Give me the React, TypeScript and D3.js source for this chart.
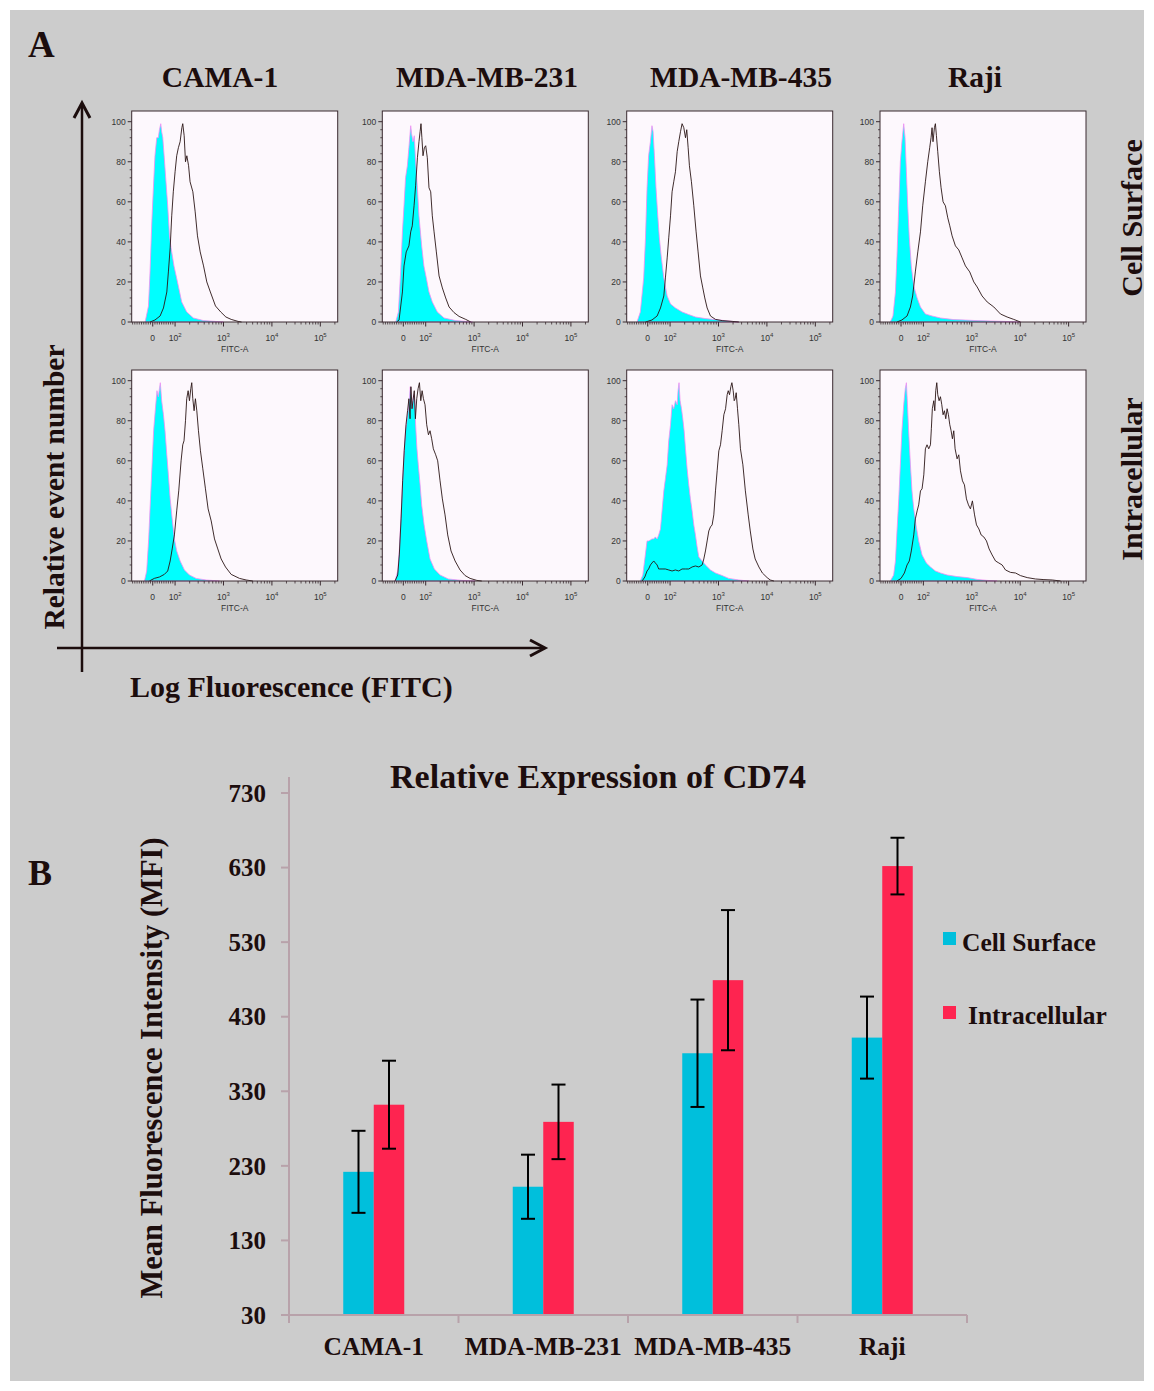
import React from "react";
import * as d3 from "d3";

const cellLines = ["CAMA-1", "MDA-MB-231", "MDA-MB-435", "Raji"];
const stainings = ["Cell Surface", "Intracellular"];

// flow histograms: [FITC-A, % of max]. iso = filled control, ab = anti-CD74 trace
const camaSurfIso = [[-34,0],[-19,8],[-12,25],[-4,50],[3,67],[10,83],[18,92],[25,92],[30,96],[36,99],[40,95],[45,92],[51,83],[58,72],[67,58],[75,43],[82,37],[95,28],[112,20],[137,10],[174,5],[239,2],[386,0.7],[1000,0]];
const camaSurfAb = [[-12,0],[10,1],[33,3],[48,7],[63,15],[70,25],[78,37],[85,53],[92,65],[100,75],[108,83],[117,87],[127,90],[138,97],[144,99],[154,93],[164,80],[175,83],[190,78],[204,70],[233,65],[260,55],[290,43],[330,35],[387,28],[452,20],[535,15],[683,8],[878,5],[1120,2.5],[1440,1.3],[2000,0.3],[2360,0]];

const mda231SurfIso = [[-34,0],[-22,5],[-12,25],[-4,45],[3,58],[10,72],[18,78],[25,87],[33,98],[37,94],[43,90],[49,93],[55,80],[63,67],[70,53],[82,38],[92,28],[103,22],[117,15],[137,10],[174,5],[240,2],[417,0.7],[922,0]];
const mda231SurfAb = [[-30,0],[-19,1],[-4,15],[3,28],[13,35],[25,38],[33,45],[40,48],[48,58],[55,68],[63,82],[70,90],[75,95],[79,99],[83,92],[88,83],[94,87],[100,88],[108,82],[117,67],[127,65],[137,53],[149,45],[166,35],[189,23],[221,17],[259,12],[304,7.5],[385,4.7],[489,2.8],[672,1.3],[853,0]];

const mda435SurfIso = [[-48,0],[-33,5],[-18,22],[-10,42],[-3,67],[4,83],[12,90],[19,98],[24,95],[30,83],[37,67],[45,53],[52,42],[60,33],[72,22],[87,13],[102,9],[129,7],[177,5],[243,3.7],[334,2.5],[538,1.7],[1016,1],[1916,0.3],[2630,0]];
const mda435SurfAb = [[-10,0],[19,1],[42,3],[57,7],[72,13],[79,22],[87,32],[94,42],[102,53],[110,65],[119,70],[129,75],[140,85],[151,90],[164,95],[177,99],[192,97],[208,92],[221,96],[236,87],[251,78],[276,70],[309,58],[345,45],[379,35],[424,23],[474,17],[521,12],[583,7],[683,3],[867,1.3],[1190,0.7],[1916,0.3],[2630,0]];

const rajiSurfIso = [[-48,0],[-36,3],[-25,15],[-18,33],[-10,58],[-3,80],[4,90],[12,99],[18,92],[24,75],[30,58],[37,42],[46,28],[57,18],[72,12],[87,7.5],[110,4],[151,3],[225,2],[424,1.2],[1290,0.7],[4590,0.3],[10160,0]];
const rajiSurfAb = [[-18,0],[4,1],[27,3],[42,7.5],[52,13],[64,25],[75,35],[87,45],[97,58],[110,70],[123,80],[135,87],[144,92],[151,97],[158,90],[169,97],[177,99],[186,93],[198,85],[214,75],[232,67],[255,60],[285,58],[319,52],[351,48],[392,43],[459,38],[538,36],[631,32],[739,28],[907,25],[1100,20],[1290,17.5],[1630,13],[2080,10],[2850,7.5],[3910,4],[5360,2.5],[7350,1.3],[10100,0]];

const camaIntraIso = [[-37,0],[-27,5],[-18,21],[-10,41],[-3,58],[4,75],[12,86],[19,95],[25,92],[30,96],[34,99],[40,90],[48,83],[55,75],[63,63],[70,53],[78,41],[87,31],[97,21],[108,15],[127,10],[156,5.5],[198,3],[272,1.3],[437,0.5],[827,0]];
const camaIntraAb = [[-15,0],[7,1.3],[30,2],[52,3.3],[67,5],[78,10],[87,16],[97,23],[108,35],[119,45],[133,60],[144,68],[153,70],[164,80],[174,91],[186,95],[198,90],[211,96],[221,99],[232,91],[247,85],[263,91],[281,85],[304,75],[334,65],[374,56],[424,46],[481,36],[557,30],[652,21],[763,16],[894,11],[1100,7],[1440,3.3],[2140,1.3],[2940,0.5],[4040,0]];

const mda231IntraIso = [[-37,0],[-25,5],[-18,15],[-10,33],[-3,50],[4,65],[10,75],[16,80],[22,85],[27,91],[31,97],[36,91],[40,86],[46,93],[51,90],[55,78],[61,66],[67,58],[75,48],[82,38],[93,28],[105,20],[123,11],[151,6],[198,3],[294,1],[557,0.3],[1050,0]];
const mda231IntraAb = [[-37,0],[-25,3],[-18,13],[-10,31],[-3,50],[4,65],[12,78],[19,85],[25,91],[30,81],[34,97],[39,86],[43,90],[49,95],[54,81],[60,91],[66,96],[72,99],[78,90],[84,95],[90,91],[97,88],[105,78],[114,73],[123,75],[133,71],[144,66],[161,63],[177,60],[198,50],[221,41],[251,33],[285,23],[334,15],[405,10],[513,5.5],[652,2.7],[827,1.3],[1140,0.3],[1440,0]];

const mda435IntraIso = [[-33,0],[-22,3],[-13,11],[-3,20],[4,20],[12,20.5],[19,21],[27,21],[34,22],[42,21],[49,23],[57,26],[64,35],[72,45],[79,51],[87,58],[94,70],[102,78],[110,88],[119,86],[129,90],[140,88],[146,95],[153,99],[161,90],[172,86],[183,81],[195,75],[208,66],[225,56],[243,48],[263,41],[285,35],[309,28],[334,23],[362,17],[392,12],[459,10],[538,8],[683,5.5],[867,4],[1190,2.7],[1630,1.3],[2630,0.5],[4240,0]];
const mda435IntraAb = [[-25,0],[-13,2],[-3,5],[4,6],[12,8],[19,9],[27,10],[34,9],[42,8],[49,6],[64,6],[79,6],[94,5.5],[110,5],[129,5.5],[151,5],[177,6],[208,6],[243,6],[285,7],[334,7.5],[392,7],[459,8],[497,11],[538,15],[583,20],[631,25],[683,27],[739,28],[800,33],[867,45],[938,55],[1016,65],[1100,68],[1190,75],[1290,83],[1400,86],[1510,93],[1590,95],[1690,93],[1800,97],[1890,99],[2010,95],[2110,90],[2210,91],[2320,94],[2470,86],[2630,78],[2840,66],[3190,58],[3590,45],[4110,33],[4530,25],[5130,16],[5720,11],[6830,7],[8060,4],[10100,1.7],[11700,0.5],[13960,0]];

const rajiIntraIso = [[-48,0],[-33,3],[-25,10],[-18,25],[-10,41],[-3,58],[4,75],[12,88],[19,96],[24,99],[28,90],[34,75],[42,58],[49,45],[57,36],[67,28],[79,20],[94,13],[115,9],[140,7],[177,5],[225,4],[309,3],[497,2.2],[802,1.7],[1290,0.8],[2080,0.3],[3330,0]];
const rajiIntraAb = [[-18,0],[0,1.3],[15,4],[27,8],[37,10],[46,15],[57,23],[64,31],[72,35],[79,38],[87,45],[94,46],[102,53],[110,66],[119,68],[129,66],[140,68],[146,76],[153,86],[164,90],[172,85],[180,95],[189,99],[198,93],[211,90],[225,92],[240,88],[255,83],[272,85],[290,81],[309,86],[329,83],[351,78],[374,75],[398,71],[424,75],[452,66],[497,61],[538,63],[583,55],[642,50],[705,48],[775,41],[853,38],[937,36],[1030,40],[1140,33],[1250,28],[1400,26],[1560,23],[1770,22],[2010,20],[2280,16],[2630,13],[3090,10],[3620,9],[4240,8],[4970,5.5],[6310,4.3],[8000,4],[10100,2.7],[13960,1.7],[20700,1],[30900,0.7],[45900,0.5],[68300,0]];

const histRows = [
  [[camaSurfIso, camaSurfAb], [mda231SurfIso, mda231SurfAb], [mda435SurfIso, mda435SurfAb], [rajiSurfIso, rajiSurfAb]],
  [[camaIntraIso, camaIntraAb], [mda231IntraIso, mda231IntraAb], [mda435IntraIso, mda435IntraAb], [rajiIntraIso, rajiIntraAb]],
];

const pctTicks = [0, 20, 40, 60, 80, 100];
const fitcMajor = [0, 1e2, 1e3, 1e4, 1e5];
const fitcLabels = ["0", "2", "3", "4", "5"];

// mean fluorescence intensity
const mfiSurface = [222, 202, 381, 402];
const mfiSurfaceErr = [55, 43, 72, 55];
const mfiIntra = [312, 289, 479, 632];
const mfiIntraErr = [59, 50, 94, 38];
const mfiTicks = [30, 130, 230, 330, 430, 530, 630, 730];

const serif = "'Liberation Serif', 'Times New Roman', serif";
const sans = "'Liberation Sans', Arial, sans-serif";
const ink = "#1c0d0d";
const cyanBar = "#00bfdc";
const redBar = "#fe2450";

const colX = [131.7, 382.3, 626.7, 880];
const rowY = [111, 370];
const PW = 206;
const PH = 211;

// biexponential-ish display: linear below 100, log above
const disp = (v: number) => (v >= 100 ? Math.log10(v) : 2 - (100 - v) * 0.00462);

const minorFitc: number[] = [];
for (let v = -90; v <= 90; v += 10) if (v !== 0) minorFitc.push(v);
[1e2, 1e3, 1e4].forEach((d) => { for (let k = 2; k <= 9; k++) minorFitc.push(k * d); });
minorFitc.push(2e5);

function Histogram({ left, top, iso, ab }: any) {
  const xs = d3.scaleLinear().domain([disp(-94), disp(228600)]).range([0, PW]);
  const fx = (v: number) => xs(disp(v));
  const y = d3.scaleLinear().domain([0, 100]).range([PH, 10.7]);
  const area = d3.area<number[]>().x((d) => fx(d[0])).y0(PH).y1((d) => y(d[1]));
  const line = d3.line<number[]>().x((d) => fx(d[0])).y((d) => y(d[1]));
  const minorPct = d3.range(0, 101, 4).filter((v) => v % 20 !== 0);
  return (
    <g transform={`translate(${left},${top})`}>
      <rect width={PW} height={PH} fill="#fdf8fd" />
      <path d={area(iso) || ""} fill="#00ffff" stroke="#f28df2" strokeWidth={0.8} />
      <path d={line(ab) || ""} fill="none" stroke="#2a1515" strokeWidth={0.9} />
      <rect width={PW} height={PH} fill="none" stroke="#3a2a30" strokeWidth={1} />
      {pctTicks.map((t) => (
        <g key={t}>
          <line x1={-4} x2={0} y1={y(t)} y2={y(t)} stroke="#3a2a30" />
          <text x={-6} y={y(t)} dy="0.35em" textAnchor="end" fontSize={8.5} fontFamily={sans} fill="#333">{t}</text>
        </g>
      ))}
      {minorPct.map((t) => (
        <line key={t} x1={-2} x2={0} y1={y(t)} y2={y(t)} stroke="#3a2a30" strokeWidth={0.8} />
      ))}
      {minorFitc.map((v) => (
        <line key={v} x1={fx(v)} x2={fx(v)} y1={PH} y2={PH + 2.5} stroke="#3a2a30" strokeWidth={0.8} />
      ))}
      {fitcMajor.map((v, i) => (
        <g key={v}>
          <line x1={fx(v)} x2={fx(v)} y1={PH} y2={PH + 4.5} stroke="#3a2a30" />
          <text x={fx(v)} y={PH + 19} textAnchor="middle" fontSize={8.5} fontFamily={sans} fill="#333">
            {i === 0 ? "0" : "10"}
            {i > 0 && <tspan dy={-4} fontSize={6}>{fitcLabels[i]}</tspan>}
          </text>
        </g>
      ))}
      <text x={PW / 2} y={PH + 30} textAnchor="middle" fontSize={8.5} fontFamily={sans} fill="#333">FITC-A</text>
    </g>
  );
}

function BarChart() {
  const yB = d3.scaleLinear().domain([30, 730]).range([1315, 793]);
  const xB = d3.scaleBand().domain(cellLines).range([289, 967]);
  const xSub = d3.scaleBand().domain(stainings).range([-30.5, 30.5]);
  const series = [
    { name: stainings[0], vals: mfiSurface, errs: mfiSurfaceErr, color: cyanBar },
    { name: stainings[1], vals: mfiIntra, errs: mfiIntraErr, color: redBar },
  ];
  const axis = "#b8a2aa";
  const bounds = [...cellLines.map((c) => xB(c) as number), 967];
  return (
    <g>
      <text x={598} y={788} textAnchor="middle" fontSize={34} fontWeight="bold" fontFamily={serif} fill={ink}>Relative Expression of CD74</text>
      {series.map((s) =>
        cellLines.map((c, i) => {
          const x0 = (xB(c) as number) + xB.bandwidth() / 2 + (xSub(s.name) as number);
          const cx = x0 + xSub.bandwidth() / 2;
          return (
            <g key={s.name + c}>
              <rect x={x0} y={yB(s.vals[i])} width={xSub.bandwidth()} height={yB(30) - yB(s.vals[i])} fill={s.color} />
              <line x1={cx} x2={cx} y1={yB(s.vals[i] - s.errs[i])} y2={yB(s.vals[i] + s.errs[i])} stroke="#000" strokeWidth={2} />
              <line x1={cx - 7} x2={cx + 7} y1={yB(s.vals[i] - s.errs[i])} y2={yB(s.vals[i] - s.errs[i])} stroke="#000" strokeWidth={2} />
              <line x1={cx - 7} x2={cx + 7} y1={yB(s.vals[i] + s.errs[i])} y2={yB(s.vals[i] + s.errs[i])} stroke="#000" strokeWidth={2} />
            </g>
          );
        })
      )}
      <line x1={289} x2={289} y1={777} y2={1315} stroke={axis} strokeWidth={2} />
      <line x1={288} x2={967} y1={1315} y2={1315} stroke={axis} strokeWidth={2} />
      {mfiTicks.map((t) => (
        <g key={t}>
          <line x1={281} x2={289} y1={yB(t)} y2={yB(t)} stroke={axis} strokeWidth={2} />
          <text x={266} y={yB(t)} dy="0.35em" textAnchor="end" fontSize={25} fontWeight="bold" fontFamily={serif} fill={ink}>{t}</text>
        </g>
      ))}
      {bounds.map((b, i) => (
        <line key={i} x1={b} x2={b} y1={1315} y2={1323} stroke={axis} strokeWidth={2} />
      ))}
      {cellLines.map((c) => (
        <text key={c} x={(xB(c) as number) + xB.bandwidth() / 2} y={1355} textAnchor="middle" fontSize={25.5} fontWeight="bold" fontFamily={serif} fill={ink}>{c}</text>
      ))}
      <text transform="translate(162,1068) rotate(-90)" textAnchor="middle" fontSize={30.5} fontWeight="bold" fontFamily={serif} fill={ink}>Mean Fluorescence Intensity (MFI)</text>
      {series.map((s, i) => (
        <g key={s.name}>
          <rect x={943} y={932 + i * 74} width={13} height={13} fill={s.color} />
          <text x={i === 0 ? 962 : 968} y={951 + i * 73} fontSize={25.5} fontWeight="bold" fontFamily={serif} fill={ink}>{s.name}</text>
        </g>
      ))}
    </g>
  );
}

export default function App() {
  const colTitleX = [220, 487, 741, 975];
  return (
    <svg width={1154} height={1391} style={{ position: "absolute", left: 0, top: 0, display: "block" }}>
      <rect width={1154} height={1391} fill="#fff" />
      <rect x={10} y={10} width={1134} height={1371} fill="#cccccc" />
      <text x={28} y={57} fontSize={37} fontWeight="bold" fontFamily={serif} fill={ink}>A</text>
      <text x={28} y={885} fontSize={36} fontWeight="bold" fontFamily={serif} fill={ink}>B</text>
      {cellLines.map((c, i) => (
        <text key={c} x={colTitleX[i]} y={87} textAnchor="middle" fontSize={29.5} fontWeight="bold" fontFamily={serif} fill={ink}>{c}</text>
      ))}
      {stainings.map((s, r) => (
        <text key={s} transform={`translate(1142,${r === 0 ? 218 : 479}) rotate(-90)`} textAnchor="middle" fontSize={30} fontWeight="bold" fontFamily={serif} fill={ink}>{s}</text>
      ))}
      {histRows.map((row, r) =>
        row.map((pair, c) => (
          <Histogram key={`${r}-${c}`} left={colX[c]} top={rowY[r]} iso={pair[0]} ab={pair[1]} />
        ))
      )}
      <line x1={82} x2={82} y1={104} y2={672} stroke={ink} strokeWidth={2.5} />
      <path d="M74,118 L82,103 L90,118" fill="none" stroke={ink} strokeWidth={3} />
      <line x1={57} x2={544} y1={648} y2={648} stroke={ink} strokeWidth={2.5} />
      <path d="M530,640 L545,648 L530,656" fill="none" stroke={ink} strokeWidth={3} />
      <text transform="translate(64,487) rotate(-90)" textAnchor="middle" fontSize={29.5} fontWeight="bold" fontFamily={serif} fill={ink}>Relative event number</text>
      <text x={130} y={697} fontSize={30} fontWeight="bold" fontFamily={serif} fill={ink}>Log Fluorescence (FITC)</text>
      <BarChart />
    </svg>
  );
}
